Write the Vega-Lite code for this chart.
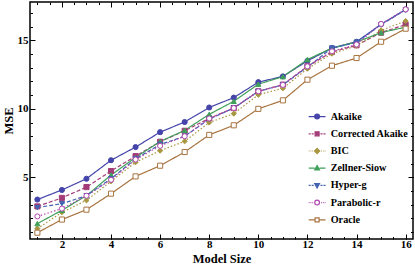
{
  "$schema": "https://vega.github.io/schema/vega-lite/v6.json",
  "width": 383,
  "height": 237,
  "autosize": {"type": "none"},
  "padding": {"left": 30, "top": 2, "right": 2, "bottom": 32},
  "background": "white",
  "config": {
    "view": {"stroke": "black", "strokeWidth": 1.5},
    "font": "Liberation Serif",
    "axis": {"domain": false, "grid": false, "tickColor": "black", "tickWidth": 1, "labelFont": "Liberation Serif", "labelFontWeight": "bold", "labelFontSize": 11, "labelColor": "black", "titleFont": "Liberation Serif", "titleFontWeight": "bold", "titleFontSize": 12.5, "titleColor": "black"},
    "legend": {"labelFont": "Liberation Serif", "labelFontWeight": "bold", "labelFontSize": 10.2, "labelColor": "black", "symbolSize": 64, "symbolStrokeWidth": 1.2, "labelOffset": 8.5, "rowPadding": 6.2, "symbolOpacity": 1, "padding": 0}
  },
  "data": {"values": [
    {"method": "Akaike", "size": 1, "mse": 3.38}, {"method": "Akaike", "size": 2, "mse": 4.08}, {"method": "Akaike", "size": 3, "mse": 4.9}, {"method": "Akaike", "size": 4, "mse": 6.25}, {"method": "Akaike", "size": 5, "mse": 7.21}, {"method": "Akaike", "size": 6, "mse": 8.3}, {"method": "Akaike", "size": 7, "mse": 9.04}, {"method": "Akaike", "size": 8, "mse": 10.1}, {"method": "Akaike", "size": 9, "mse": 10.82}, {"method": "Akaike", "size": 10, "mse": 11.95}, {"method": "Akaike", "size": 11, "mse": 12.37}, {"method": "Akaike", "size": 12, "mse": 13.5}, {"method": "Akaike", "size": 13, "mse": 14.44}, {"method": "Akaike", "size": 14, "mse": 14.9}, {"method": "Akaike", "size": 15, "mse": 16.17}, {"method": "Akaike", "size": 16, "mse": 17.25},
    {"method": "Corrected Akaike", "size": 1, "mse": 2.88}, {"method": "Corrected Akaike", "size": 2, "mse": 3.5}, {"method": "Corrected Akaike", "size": 3, "mse": 4.29}, {"method": "Corrected Akaike", "size": 4, "mse": 5.46}, {"method": "Corrected Akaike", "size": 5, "mse": 6.55}, {"method": "Corrected Akaike", "size": 6, "mse": 7.6}, {"method": "Corrected Akaike", "size": 7, "mse": 8.4}, {"method": "Corrected Akaike", "size": 8, "mse": 9.3}, {"method": "Corrected Akaike", "size": 9, "mse": 10.06}, {"method": "Corrected Akaike", "size": 10, "mse": 11.28}, {"method": "Corrected Akaike", "size": 11, "mse": 11.77}, {"method": "Corrected Akaike", "size": 12, "mse": 13.1}, {"method": "Corrected Akaike", "size": 13, "mse": 14.15}, {"method": "Corrected Akaike", "size": 14, "mse": 14.64}, {"method": "Corrected Akaike", "size": 15, "mse": 15.56}, {"method": "Corrected Akaike", "size": 16, "mse": 16.15},
    {"method": "BIC", "size": 1, "mse": 1.26}, {"method": "BIC", "size": 2, "mse": 2.45}, {"method": "BIC", "size": 3, "mse": 3.32}, {"method": "BIC", "size": 4, "mse": 4.71}, {"method": "BIC", "size": 5, "mse": 6.1}, {"method": "BIC", "size": 6, "mse": 6.95}, {"method": "BIC", "size": 7, "mse": 7.63}, {"method": "BIC", "size": 8, "mse": 9.0}, {"method": "BIC", "size": 9, "mse": 9.65}, {"method": "BIC", "size": 10, "mse": 11.03}, {"method": "BIC", "size": 11, "mse": 11.5}, {"method": "BIC", "size": 12, "mse": 12.93}, {"method": "BIC", "size": 13, "mse": 14.03}, {"method": "BIC", "size": 14, "mse": 14.6}, {"method": "BIC", "size": 15, "mse": 15.73}, {"method": "BIC", "size": 16, "mse": 16.41},
    {"method": "Zellner-Siow", "size": 1, "mse": 1.62}, {"method": "Zellner-Siow", "size": 2, "mse": 2.6}, {"method": "Zellner-Siow", "size": 3, "mse": 3.66}, {"method": "Zellner-Siow", "size": 4, "mse": 5.17}, {"method": "Zellner-Siow", "size": 5, "mse": 6.45}, {"method": "Zellner-Siow", "size": 6, "mse": 7.62}, {"method": "Zellner-Siow", "size": 7, "mse": 8.43}, {"method": "Zellner-Siow", "size": 8, "mse": 9.6}, {"method": "Zellner-Siow", "size": 9, "mse": 10.55}, {"method": "Zellner-Siow", "size": 10, "mse": 11.8}, {"method": "Zellner-Siow", "size": 11, "mse": 12.35}, {"method": "Zellner-Siow", "size": 12, "mse": 13.6}, {"method": "Zellner-Siow", "size": 13, "mse": 14.44}, {"method": "Zellner-Siow", "size": 14, "mse": 14.88}, {"method": "Zellner-Siow", "size": 15, "mse": 15.56}, {"method": "Zellner-Siow", "size": 16, "mse": 15.97},
    {"method": "Hyper-g", "size": 1, "mse": 2.79}, {"method": "Hyper-g", "size": 2, "mse": 3.08}, {"method": "Hyper-g", "size": 3, "mse": 3.66}, {"method": "Hyper-g", "size": 4, "mse": 4.9}, {"method": "Hyper-g", "size": 5, "mse": 6.35}, {"method": "Hyper-g", "size": 6, "mse": 7.4}, {"method": "Hyper-g", "size": 7, "mse": 8.0}, {"method": "Hyper-g", "size": 8, "mse": 9.25}, {"method": "Hyper-g", "size": 9, "mse": 10.06}, {"method": "Hyper-g", "size": 10, "mse": 11.28}, {"method": "Hyper-g", "size": 11, "mse": 11.75}, {"method": "Hyper-g", "size": 12, "mse": 13.05}, {"method": "Hyper-g", "size": 13, "mse": 14.44}, {"method": "Hyper-g", "size": 14, "mse": 14.85}, {"method": "Hyper-g", "size": 15, "mse": 16.15}, {"method": "Hyper-g", "size": 16, "mse": 17.22},
    {"method": "Parabolic-r", "size": 1, "mse": 2.15}, {"method": "Parabolic-r", "size": 2, "mse": 2.72}, {"method": "Parabolic-r", "size": 3, "mse": 3.66}, {"method": "Parabolic-r", "size": 4, "mse": 4.82}, {"method": "Parabolic-r", "size": 5, "mse": 6.3}, {"method": "Parabolic-r", "size": 6, "mse": 7.3}, {"method": "Parabolic-r", "size": 7, "mse": 8.0}, {"method": "Parabolic-r", "size": 8, "mse": 9.3}, {"method": "Parabolic-r", "size": 9, "mse": 10.06}, {"method": "Parabolic-r", "size": 10, "mse": 11.28}, {"method": "Parabolic-r", "size": 11, "mse": 11.75}, {"method": "Parabolic-r", "size": 12, "mse": 13.1}, {"method": "Parabolic-r", "size": 13, "mse": 14.2}, {"method": "Parabolic-r", "size": 14, "mse": 14.7}, {"method": "Parabolic-r", "size": 15, "mse": 16.2}, {"method": "Parabolic-r", "size": 16, "mse": 17.26},
    {"method": "Oracle", "size": 1, "mse": 0.96}, {"method": "Oracle", "size": 2, "mse": 1.92}, {"method": "Oracle", "size": 3, "mse": 2.64}, {"method": "Oracle", "size": 4, "mse": 3.81}, {"method": "Oracle", "size": 5, "mse": 5.07}, {"method": "Oracle", "size": 6, "mse": 5.85}, {"method": "Oracle", "size": 7, "mse": 6.85}, {"method": "Oracle", "size": 8, "mse": 8.1}, {"method": "Oracle", "size": 9, "mse": 8.8}, {"method": "Oracle", "size": 10, "mse": 10.0}, {"method": "Oracle", "size": 11, "mse": 10.62}, {"method": "Oracle", "size": 12, "mse": 12.13}, {"method": "Oracle", "size": 13, "mse": 13.15}, {"method": "Oracle", "size": 14, "mse": 13.71}, {"method": "Oracle", "size": 15, "mse": 14.9}, {"method": "Oracle", "size": 16, "mse": 15.85}
  ]},
  "layer": [
    {
      "mark": {"type": "line", "strokeWidth": 1.2},
      "encoding": {
        "x": {"field": "size", "type": "quantitative", "scale": {"domain": [0.7, 16.3], "nice": false, "zero": false}, "axis": {"orient": "bottom", "values": [2, 4, 6, 8, 10, 12, 14, 16], "tickSize": -5, "labelPadding": 4, "title": "Model Size", "titlePadding": 3}},
        "y": {"field": "mse", "type": "quantitative", "scale": {"domain": [0.5, 17.8], "nice": false, "zero": false}, "axis": {"orient": "left", "values": [5, 10, 15], "tickSize": -5, "labelPadding": 7, "title": "MSE", "titlePadding": 2}},
        "color": {"field": "method", "type": "nominal", "scale": {"domain": ["Akaike", "Corrected Akaike", "BIC", "Zellner-Siow", "Hyper-g", "Parabolic-r", "Oracle"], "range": ["#4444aa", "#a33c78", "#a89640", "#40a05a", "#4464b0", "#b048b0", "#a87440"]}, "legend": null},
        "strokeDash": {"field": "method", "type": "nominal", "scale": {"domain": ["Akaike", "Corrected Akaike", "BIC", "Zellner-Siow", "Hyper-g", "Parabolic-r", "Oracle"], "range": [[1, 0], [4, 2], [1.5, 2], [1, 0], [4, 2], [1.5, 2], [1, 0]]}, "legend": null}
      }
    },
    {
      "mark": {"type": "point", "filled": true, "size": 26, "opacity": 1, "strokeWidth": 1},
      "encoding": {
        "x": {"field": "size", "type": "quantitative", "scale": {"domain": [0.7, 16.3], "nice": false, "zero": false}, "axis": {"orient": "bottom", "values": [1, 1.5, 2, 2.5, 3, 3.5, 4, 4.5, 5, 5.5, 6, 6.5, 7, 7.5, 8, 8.5, 9, 9.5, 10, 10.5, 11, 11.5, 12, 12.5, 13, 13.5, 14, 14.5, 15, 15.5, 16], "tickSize": -2.5, "labels": false, "title": null}},
        "y": {"field": "mse", "type": "quantitative", "scale": {"domain": [0.5, 17.8], "nice": false, "zero": false}, "axis": {"orient": "left", "values": [1, 2, 3, 4, 5, 6, 7, 8, 9, 10, 11, 12, 13, 14, 15, 16, 17], "tickSize": -2.5, "labels": false, "title": null}},
        "stroke": {"field": "method", "type": "nominal", "scale": {"domain": ["Akaike", "Corrected Akaike", "BIC", "Zellner-Siow", "Hyper-g", "Parabolic-r", "Oracle"], "range": ["#4444aa", "#a33c78", "#a89640", "#40a05a", "#4464b0", "#b048b0", "#a87440"]}, "legend": null},
        "fill": {"field": "method", "type": "nominal", "scale": {"domain": ["Akaike", "Corrected Akaike", "BIC", "Zellner-Siow", "Hyper-g", "Parabolic-r", "Oracle"], "range": ["#4444aa", "#a33c78", "#a89640", "#40a05a", "#4464b0", "#ffffff", "#ffffff"]}, "legend": null},
        "shape": {"field": "method", "type": "nominal", "scale": {"domain": ["Akaike", "Corrected Akaike", "BIC", "Zellner-Siow", "Hyper-g", "Parabolic-r", "Oracle"], "range": ["circle", "square", "diamond", "triangle-up", "triangle-down", "circle", "square"]}, "legend": null}
      }
    },
    {
      "mark": {"type": "point", "filled": true, "opacity": 0},
      "encoding": {
        "x": {"field": "size", "type": "quantitative", "scale": {"domain": [0.7, 16.3], "nice": false, "zero": false}, "axis": {"orient": "top", "values": [2, 4, 6, 8, 10, 12, 14, 16], "tickSize": -5, "labels": false, "title": null}},
        "y": {"field": "mse", "type": "quantitative", "scale": {"domain": [0.5, 17.8], "nice": false, "zero": false}, "axis": {"orient": "right", "values": [5, 10, 15], "tickSize": -5, "labels": false, "title": null}},
        "stroke": {"field": "method", "type": "nominal", "scale": {"domain": ["Akaike", "Corrected Akaike", "BIC", "Zellner-Siow", "Hyper-g", "Parabolic-r", "Oracle"], "range": ["#4444aa", "#a33c78", "#a89640", "#40a05a", "#4464b0", "#b048b0", "#a87440"]}, "legend": {"title": null, "orient": "none", "legendX": 282, "legendY": 109.5}},
        "fill": {"field": "method", "type": "nominal", "scale": {"domain": ["Akaike", "Corrected Akaike", "BIC", "Zellner-Siow", "Hyper-g", "Parabolic-r", "Oracle"], "range": ["#4444aa", "#a33c78", "#a89640", "#40a05a", "#4464b0", "#ffffff", "#ffffff"]}, "legend": {"title": null, "orient": "none", "legendX": 282, "legendY": 109.5}},
        "shape": {"field": "method", "type": "nominal", "scale": {"domain": ["Akaike", "Corrected Akaike", "BIC", "Zellner-Siow", "Hyper-g", "Parabolic-r", "Oracle"], "range": [
          "M-2.1,0H-0.6M0.6,0H2.1M0.6,0A0.6,0.6 0 1,1 -0.6,0A0.6,0.6 0 1,1 0.6,0Z",
          "M-2.1,0H-1.6M-1.35,0H-0.85M0.85,0H1.35M1.6,0H2.1M-0.5,-0.5H0.5V0.5H-0.5Z",
          "M-2.1,0H-1.9M-1.65,0H-1.45M-1.2,0H-1.0M1.0,0H1.2M1.45,0H1.65M1.9,0H2.1M0,-0.65L0.65,0L0,0.65L-0.65,0Z",
          "M-2.1,0H-0.6M0.6,0H2.1M0,-0.65L0.6,0.45L-0.6,0.45Z",
          "M-2.1,0H-1.6M-1.35,0H-0.85M0.85,0H1.35M1.6,0H2.1M0,0.65L0.6,-0.45L-0.6,-0.45Z",
          "M-2.1,0H-1.9M-1.65,0H-1.45M-1.2,0H-1.0M1.0,0H1.2M1.45,0H1.65M1.9,0H2.1M0.6,0A0.6,0.6 0 1,1 -0.6,0A0.6,0.6 0 1,1 0.6,0Z",
          "M-2.1,0H-0.6M0.6,0H2.1M-0.5,-0.5H0.5V0.5H-0.5Z"
        ]}, "legend": {"title": null, "orient": "none", "legendX": 282, "legendY": 109.5}}
      }
    },
    {
      "mark": {"type": "point", "opacity": 0},
      "encoding": {
        "x": {"field": "size", "type": "quantitative", "scale": {"domain": [0.7, 16.3], "nice": false, "zero": false}, "axis": {"orient": "top", "values": [1, 1.5, 2, 2.5, 3, 3.5, 4, 4.5, 5, 5.5, 6, 6.5, 7, 7.5, 8, 8.5, 9, 9.5, 10, 10.5, 11, 11.5, 12, 12.5, 13, 13.5, 14, 14.5, 15, 15.5, 16], "tickSize": -2.5, "labels": false, "title": null}},
        "y": {"field": "mse", "type": "quantitative", "scale": {"domain": [0.5, 17.8], "nice": false, "zero": false}, "axis": {"orient": "right", "values": [1, 2, 3, 4, 5, 6, 7, 8, 9, 10, 11, 12, 13, 14, 15, 16, 17], "tickSize": -2.5, "labels": false, "title": null}}
      }
    }
  ],
  "resolve": {
    "axis": {"x": "independent", "y": "independent"},
    "scale": {"shape": "independent"},
    "legend": {"color": "independent", "stroke": "independent", "fill": "independent", "shape": "independent", "strokeDash": "independent"}
  }
}
